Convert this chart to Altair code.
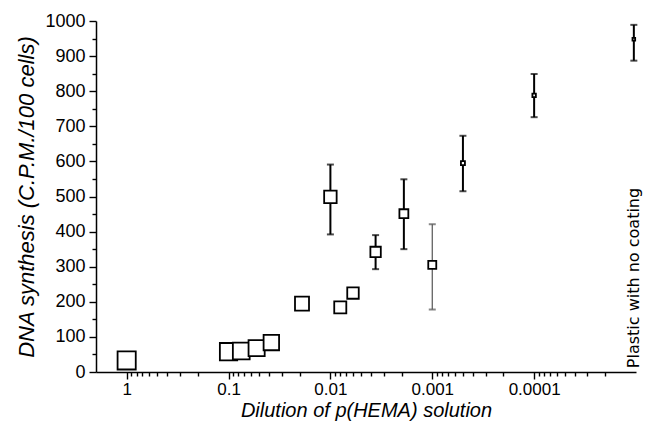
import altair as alt
import pandas as pd

# ---- data ----
dilution = [1, 0.1, 0.075, 0.053, 0.038, 0.019, 0.01, 0.008, 0.006,
            0.0036, 0.0019, 0.001, 0.0005, 0.0001, 1.05e-5]
synthesis = [33, 58, 60, 68, 84, 195, 499, 184, 225,
             342, 451, 305, 595, 788, 948]
err_low = [None, None, None, None, None, None, 392, None, None,
           293, 350, 178, 515, 726, 887]
err_high = [None, None, None, None, None, None, 591, None, None,
            390, 549, 421, 673, 849, 989]

x_major = [1, 0.1, 0.01, 0.001, 0.0001]
x_minor = [k * 10.0 ** n for n in range(-5, 0) for k in range(2, 10)]
y_ticks = list(range(0, 1001, 50))

note_text = ["Plastic with no coating"]
note_x = [dilution[-1]]
note_y = [11]

df = pd.DataFrame({"dilution": dilution, "synthesis": synthesis,
                   "lo": err_low, "hi": err_high})
note_df = pd.DataFrame({"dilution": note_x, "synthesis": note_y, "text": note_text})

FONT = "Liberation Sans"
xscale = alt.Scale(type="log", domain=[1e-5, 2], reverse=True, nice=False)
yscale = alt.Scale(domain=[0, 1000], nice=False)

x_is_major = "abs(log(datum.value) / LN10 - round(log(datum.value) / LN10)) < 1e-6"
y_is_major = "datum.value % 100 == 0"

x_axis = alt.Axis(orient="bottom", values=x_major + x_minor,
                  labelExpr=f"({x_is_major}) ? format(datum.value, '~g') : ''",
                  labelOverlap=False,
                  tickSize={"condition": {"test": x_is_major, "value": 7}, "value": 4},
                  tickWidth=1.4, tickColor="black", domainColor="black", domainWidth=1.5,
                  labelFont=FONT, labelFontSize=17, labelColor="black",
                  labelPadding=2, grid=False,
                  title="Dilution of p(HEMA) solution", titleFont=FONT,
                  titleFontSize=20, titleFontStyle="italic",
                  titleFontWeight="normal", titleColor="black", titlePadding=3)
y_axis = alt.Axis(orient="left", values=y_ticks, format="d",
                  labelExpr=f"({y_is_major}) ? datum.label : ''",
                  labelOverlap=False,
                  tickSize={"condition": {"test": y_is_major, "value": 7}, "value": 4},
                  tickWidth=1.4, tickColor="black", domainColor="black", domainWidth=1.5,
                  labelFont=FONT, labelFontSize=18, labelColor="black",
                  labelPadding=4, grid=False,
                  title="DNA synthesis (C.P.M./100 cells)", titleFont=FONT,
                  titleFontSize=22, titleFontStyle="italic",
                  titleFontWeight="normal", titleColor="black", titlePadding=6)

base = alt.Chart(df)
err_df = base.transform_filter("isValid(datum.lo)")

gray_test = "datum.dilution == 0.001"
err_color = alt.condition(gray_test, alt.value("#555555"), alt.value("black"))

rules = err_df.mark_rule().encode(
    x=alt.X("dilution:Q", scale=xscale, axis=None),
    y=alt.Y("lo:Q", scale=yscale, axis=None),
    y2="hi:Q",
    color=err_color,
    strokeWidth=alt.condition(gray_test, alt.value(1.2), alt.value(2)),
)
caps_lo = err_df.mark_tick(orient="horizontal", size=7, thickness=2).encode(
    x=alt.X("dilution:Q", scale=xscale, axis=None),
    y=alt.Y("lo:Q", scale=yscale, axis=None),
    color=err_color,
)
caps_hi = err_df.mark_tick(orient="horizontal", size=7, thickness=2).encode(
    x=alt.X("dilution:Q", scale=xscale, axis=None),
    y=alt.Y("hi:Q", scale=yscale, axis=None),
    color=err_color,
)
squares = base.mark_point(shape="square", filled=True, fill="white",
                          stroke="black", strokeWidth=1.8, opacity=1,
                          fillOpacity=1, strokeOpacity=1).encode(
    x=alt.X("dilution:Q", scale=xscale, axis=x_axis),
    y=alt.Y("synthesis:Q", scale=yscale, axis=y_axis),
    size=alt.Size("dilution:Q", legend=None,
                  scale=alt.Scale(type="log",
                                  domain=[1e-5, 1e-4, 5e-4, 1e-3, 2e-3, 1e-2, 0.1, 1],
                                  range=[7, 12, 16, 64, 81, 156, 300, 330])),
)
note = alt.Chart(note_df).mark_text(angle=270, align="left", baseline="middle",
                                    font="DejaVu Sans", fontSize=16, color="black").encode(
    x=alt.X("dilution:Q", scale=xscale, axis=None),
    y=alt.Y("synthesis:Q", scale=yscale, axis=None),
    text="text:N",
)

chart = alt.layer(rules, caps_lo, caps_hi, squares, note).resolve_axis(
    x="independent", y="independent"
).properties(
    width=540, height=351,
    autosize=alt.AutoSizeParams(type="none"),
    padding={"left": 88, "top": 13, "right": 10, "bottom": 51},
    background="white",
).configure_view(stroke=None)

chart.save("out.html", embed_options={"renderer": "svg", "actions": False})
